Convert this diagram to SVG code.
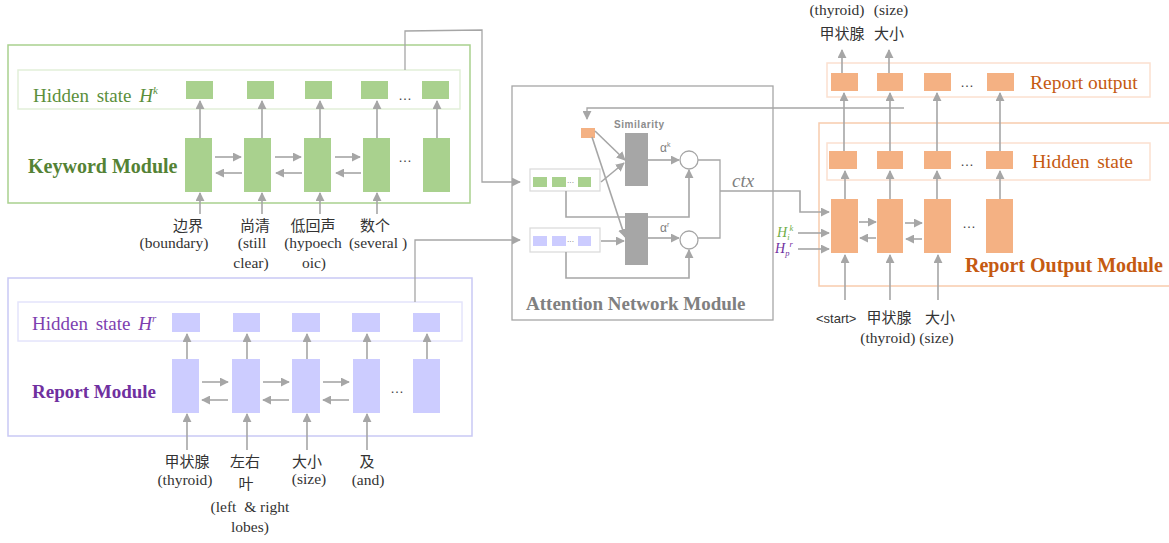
<svg xmlns="http://www.w3.org/2000/svg" width="1169" height="543" viewBox="0 0 1169 543">
  <style>
    .arr { stroke: #a6a6a6; stroke-width: 1.6; fill: none; marker-end: url(#ah); }
    .ln { stroke: #a6a6a6; stroke-width: 1.3; fill: none; }
    .gfill { fill: #a9d18e; }
    .pfill { fill: #ccccff; }
    .ofill { fill: #f4b183; }
    .serif { font-family: "Liberation Serif", "Times New Roman", serif; }
    .sans { font-family: "Liberation Sans", Arial, sans-serif; }
    .cjk { font-family: "Noto Sans CJK SC", "Liberation Sans", sans-serif; font-size: 15px; fill: #333; }
    .lbl { font-family: "Liberation Serif", "Times New Roman", serif; font-size: 15.5px; fill: #333; }
    .dots { font-family: "Liberation Sans", Arial, sans-serif; font-size: 14px; fill: #444; }
  </style>
  <defs>
    <marker id="ah" viewBox="0 0 10 10" refX="9" refY="5" markerWidth="9" markerHeight="9" markerUnits="userSpaceOnUse" orient="auto">
      <path d="M0,0 L10,5 L0,10 z" fill="#a6a6a6"/>
    </marker>
  </defs>
  <rect width="1169" height="543" fill="#ffffff"/>

  <!-- Keyword Module -->
  <g id="keyword-module">
    <rect x="8" y="45" width="462" height="158" fill="none" stroke="#a9d18e" stroke-width="1.5"/>
    <rect x="18" y="70" width="442" height="39" fill="none" stroke="#e2efd9" stroke-width="1.5"/>
    <text class="serif" x="33" y="102" font-size="19" fill="#5b8f3c" word-spacing="3">Hidden state <tspan font-style="italic">H</tspan><tspan font-style="italic" font-size="11" dy="-8">k</tspan></text>
    <text class="serif" x="28" y="173" font-size="20" font-weight="bold" fill="#548235">Keyword Module</text>
    <g class="gfill">
      <rect x="186" y="81" width="27" height="18"/>
      <rect x="247" y="81" width="27" height="18"/>
      <rect x="305" y="81" width="27" height="18"/>
      <rect x="361" y="81" width="27" height="18"/>
      <rect x="422" y="81" width="27" height="18"/>
      <rect x="185" y="138" width="27" height="54"/>
      <rect x="244" y="138" width="27" height="54"/>
      <rect x="304" y="138" width="27" height="54"/>
      <rect x="363" y="138" width="27" height="54"/>
      <rect x="423" y="138" width="27" height="54"/>
    </g>
    <text class="dots" x="398" y="100">…</text>
    <text class="dots" x="398" y="162">…</text>
    <g>
      <path class="arr" d="M200,138 V101"/>
      <path class="arr" d="M262,138 V101"/>
      <path class="arr" d="M320,138 V101"/>
      <path class="arr" d="M377,138 V101"/>
      <path class="arr" d="M437,138 V101"/>
      <path class="arr" d="M215,157 H241"/>
      <path class="arr" d="M242,173 H216"/>
      <path class="arr" d="M275,157 H301"/>
      <path class="arr" d="M302,173 H276"/>
      <path class="arr" d="M335,157 H360"/>
      <path class="arr" d="M361,173 H336"/>
      <path class="arr" d="M200,214 V193"/>
      <path class="arr" d="M262,214 V193"/>
      <path class="arr" d="M320,214 V193"/>
      <path class="arr" d="M377,214 V193"/>
    </g>
    <text class="cjk" x="188" y="231" text-anchor="middle">边界</text>
    <text class="lbl" x="174" y="248" text-anchor="middle">(boundary)</text>
    <text class="cjk" x="255" y="231" text-anchor="middle">尚清</text>
    <text class="lbl" x="252" y="248" text-anchor="middle">(still</text>
    <text class="lbl" x="251" y="268" text-anchor="middle">clear)</text>
    <text class="cjk" x="313" y="231" text-anchor="middle">低回声</text>
    <text class="lbl" x="313" y="248" text-anchor="middle">(hypoech</text>
    <text class="lbl" x="314" y="268" text-anchor="middle">oic)</text>
    <text class="cjk" x="375" y="231" text-anchor="middle">数个</text>
    <text class="lbl" x="378" y="248" text-anchor="middle">(several )</text>
  </g>

  <!-- Report Module -->
  <g id="report-module">
    <rect x="8" y="278" width="464" height="158" fill="none" stroke="#c9c9f5" stroke-width="1.5"/>
    <rect x="18" y="302" width="444" height="39" fill="none" stroke="#e4e4fb" stroke-width="1.5"/>
    <text class="serif" x="32" y="330" font-size="19" fill="#7e3fb0" word-spacing="3">Hidden state <tspan font-style="italic">H</tspan><tspan font-style="italic" font-size="11" dy="-8">r</tspan></text>
    <text class="serif" x="32" y="398" font-size="19" font-weight="bold" fill="#7030a0">Report Module</text>
    <g class="pfill">
      <rect x="172" y="313" width="28" height="19"/>
      <rect x="233" y="313" width="27" height="19"/>
      <rect x="292" y="313" width="28" height="19"/>
      <rect x="352" y="313" width="28" height="19"/>
      <rect x="413" y="313" width="27" height="19"/>
      <rect x="172" y="359" width="27" height="54"/>
      <rect x="232" y="359" width="28" height="54"/>
      <rect x="292" y="359" width="28" height="54"/>
      <rect x="353" y="359" width="27" height="54"/>
      <rect x="413" y="359" width="27" height="54"/>
    </g>
    <text class="dots" x="390" y="393">…</text>
    <g>
      <path class="arr" d="M187,359 V334"/>
      <path class="arr" d="M247,359 V334"/>
      <path class="arr" d="M307,359 V334"/>
      <path class="arr" d="M367,359 V334"/>
      <path class="arr" d="M427,359 V334"/>
      <path class="arr" d="M202,382 H228"/>
      <path class="arr" d="M228,400 H202"/>
      <path class="arr" d="M263,382 H289"/>
      <path class="arr" d="M289,400 H263"/>
      <path class="arr" d="M323,382 H349"/>
      <path class="arr" d="M349,400 H323"/>
      <path class="arr" d="M187,450 V414"/>
      <path class="arr" d="M247,450 V414"/>
      <path class="arr" d="M307,450 V414"/>
      <path class="arr" d="M367,450 V414"/>
    </g>
    <text class="cjk" x="187" y="467" text-anchor="middle">甲状腺</text>
    <text class="lbl" x="185" y="485" text-anchor="middle">(thyroid)</text>
    <text class="cjk" x="245" y="467" text-anchor="middle">左右</text>
    <text class="cjk" x="246" y="489" text-anchor="middle">叶</text>
    <text class="lbl" x="250" y="512" text-anchor="middle" xml:space="preserve">(left  &amp; right</text>
    <text class="lbl" x="250" y="532" text-anchor="middle">lobes)</text>
    <text class="cjk" x="307" y="467" text-anchor="middle">大小</text>
    <text class="lbl" x="309" y="484" text-anchor="middle">(size)</text>
    <text class="cjk" x="367" y="467" text-anchor="middle">及</text>
    <text class="lbl" x="368" y="485" text-anchor="middle">(and)</text>
  </g>

  <!-- Attention Network Module -->
  <g id="attention-module">
    <rect x="512" y="86" width="261" height="234" fill="none" stroke="#a6a6a6" stroke-width="1.3"/>
    <text class="serif" x="526" y="310" font-size="19" font-weight="bold" fill="#808080">Attention Network Module</text>
    <text class="sans" x="614" y="128" font-size="10" font-weight="bold" fill="#8c8c8c" textLength="50">Similarity</text>
    <rect x="581" y="128" width="14" height="10" class="ofill"/>
    <rect x="625" y="133" width="23" height="53" fill="#a6a6a6"/>
    <rect x="625" y="213" width="23" height="52" fill="#a6a6a6"/>
    <rect x="530" y="169" width="70" height="22" fill="#ffffff" stroke="#d9d9d9" stroke-width="1.2"/>
    <rect x="533" y="177" width="14" height="10" class="gfill"/>
    <rect x="552" y="177" width="14" height="10" class="gfill"/>
    <rect x="578" y="177" width="13" height="10" class="gfill"/>
    <text class="sans" x="567" y="185" font-size="7" fill="#555">···</text>
    <rect x="530" y="228" width="70" height="24" fill="#ffffff" stroke="#d9d9d9" stroke-width="1.2"/>
    <rect x="533" y="236" width="14" height="10" class="pfill"/>
    <rect x="552" y="236" width="14" height="10" class="pfill"/>
    <rect x="578" y="236" width="13" height="10" class="pfill"/>
    <text class="sans" x="567" y="244" font-size="7" fill="#555">···</text>
    <circle cx="689" cy="160" r="9" fill="#ffffff" stroke="#a6a6a6" stroke-width="1.3"/>
    <circle cx="689" cy="240" r="9" fill="#ffffff" stroke="#a6a6a6" stroke-width="1.3"/>
    <text class="sans" x="660" y="152" font-size="12" fill="#7f7f7f">α<tspan font-size="7" dy="-5">k</tspan></text>
    <text class="sans" x="660" y="232" font-size="12" fill="#7f7f7f">α<tspan font-size="7" dy="-5">r</tspan></text>
    <text class="serif" x="732" y="187" font-size="19" font-style="italic" fill="#7f7f7f">ctx</text>
  </g>

  <!-- Report Output Module -->
  <g id="report-output-module">
    <rect x="819" y="123" width="360" height="163" fill="none" stroke="#f8cbad" stroke-width="1.5"/>
    <rect x="827" y="63" width="323" height="34" fill="none" stroke="#fbe0cf" stroke-width="1.5"/>
    <rect x="827" y="143" width="323" height="37" fill="none" stroke="#fbe0cf" stroke-width="1.5"/>
    <text class="serif" x="1030" y="89" font-size="19.5" fill="#c55a11">Report output</text>
    <text class="serif" x="1032" y="168" font-size="19.5" fill="#c55a11" word-spacing="3">Hidden state</text>
    <text class="serif" x="965" y="272" font-size="20" font-weight="bold" fill="#c55a11">Report Output Module</text>
    <g class="ofill">
      <rect x="831" y="73" width="27" height="18"/>
      <rect x="877" y="73" width="26" height="18"/>
      <rect x="924" y="73" width="27" height="18"/>
      <rect x="987" y="73" width="27" height="18"/>
      <rect x="829" y="151" width="28" height="18"/>
      <rect x="877" y="151" width="26" height="18"/>
      <rect x="924" y="151" width="27" height="18"/>
      <rect x="986" y="151" width="27" height="18"/>
      <rect x="831" y="199" width="27" height="54"/>
      <rect x="877" y="199" width="26" height="54"/>
      <rect x="924" y="199" width="27" height="54"/>
      <rect x="986" y="199" width="27" height="54"/>
    </g>
    <text class="dots" x="960" y="87">…</text>
    <text class="dots" x="960" y="166">…</text>
    <text class="dots" x="962" y="228">…</text>
    <g>
      <path class="arr" d="M842,73 V50"/>
      <path class="arr" d="M889,73 V50"/>
      <path class="arr" d="M844,151 V93"/>
      <path class="arr" d="M890,151 V93"/>
      <path class="arr" d="M937,151 V93"/>
      <path class="arr" d="M1000,151 V93"/>
      <path class="arr" d="M845,199 V171"/>
      <path class="arr" d="M890,199 V171"/>
      <path class="arr" d="M937,199 V171"/>
      <path class="arr" d="M1000,199 V171"/>
      <path class="arr" d="M859,222 H876"/>
      <path class="arr" d="M876,238 H860"/>
      <path class="arr" d="M905,223 H922"/>
      <path class="arr" d="M922,239 H906"/>
      <path class="arr" d="M845,300 V255"/>
      <path class="arr" d="M890,300 V255"/>
      <path class="arr" d="M938,300 V255"/>
      <path class="arr" d="M798,233 H829"/>
      <path class="arr" d="M798,249 H829"/>
    </g>
    <text class="serif" x="777" y="237" font-size="14" font-style="italic" fill="#70ad47">H<tspan font-size="8.5" dy="3">i</tspan><tspan font-size="8.5" dy="-9">k</tspan></text>
    <text class="serif" x="775" y="253" font-size="14" font-style="italic" fill="#7030a0">H<tspan font-size="8.5" dy="3">p</tspan><tspan font-size="8.5" dy="-9">r</tspan></text>
    <text class="lbl" x="837" y="15" text-anchor="middle">(thyroid)</text>
    <text class="lbl" x="891" y="15" text-anchor="middle">(size)</text>
    <text class="cjk" x="842" y="39" text-anchor="middle">甲状腺</text>
    <text class="cjk" x="889" y="39" text-anchor="middle">大小</text>
    <text class="sans" x="816" y="323" font-size="13" fill="#333">&lt;start&gt;</text>
    <text class="cjk" x="889" y="323" text-anchor="middle">甲状腺</text>
    <text class="cjk" x="940" y="323" text-anchor="middle">大小</text>
    <text class="lbl" x="907" y="343" text-anchor="middle">(thyroid) (size)</text>
  </g>

  <!-- Connectors -->
  <g id="connectors">
    <path class="ln" d="M405,70 V31 L482,30 V182 H520" marker-end="url(#ah)"/>
    <path class="ln" d="M415,302 V240 H520" marker-end="url(#ah)"/>
    <path class="ln" d="M904,108 H587 V119" marker-end="url(#ah)"/>
    <path class="arr" d="M595,131 L625,160"/>
    <path class="arr" d="M592,137 L625,237"/>
    <path class="arr" d="M601,182 L624,163"/>
    <path class="arr" d="M601,241 H624"/>
    <path class="arr" d="M648,160 H679"/>
    <path class="arr" d="M648,238 H679"/>
    <path class="arr" d="M566,191 V217 H689 V170"/>
    <path class="arr" d="M566,252 V278 H689 V250"/>
    <path class="ln" d="M698,160 H720 V238 H698"/>
    <path class="arr" d="M720,191 H800 V212 H829"/>
  </g>
</svg>
